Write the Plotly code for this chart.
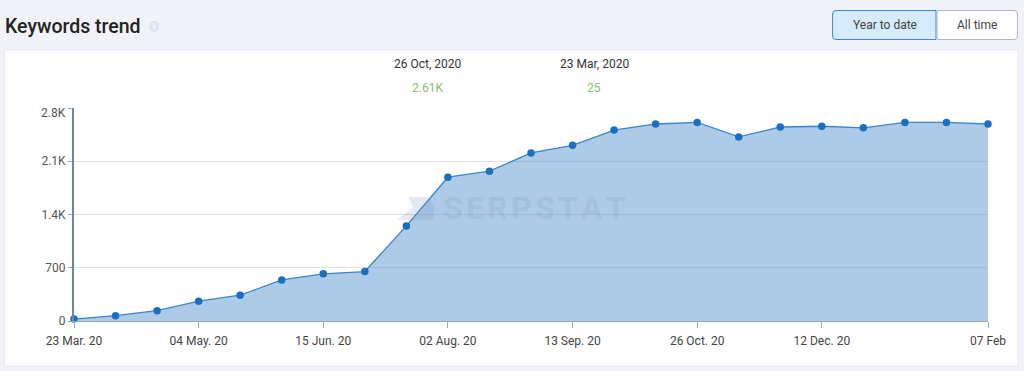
import plotly.graph_objects as go

dates = ["23 Mar. 20","06 Apr. 20","20 Apr. 20","04 May. 20","18 May. 20","01 Jun. 20","15 Jun. 20","29 Jun. 20","13 Jul. 20","02 Aug. 20","16 Aug. 20","30 Aug. 20","13 Sep. 20","27 Sep. 20","12 Oct. 20","26 Oct. 20","10 Nov. 20","26 Nov. 20","12 Dec. 20","26 Dec. 20","10 Jan. 21","24 Jan. 21","07 Feb"]
keywords = [25,70,135,260,340,540,620,650,1250,1890,1970,2210,2310,2510,2590,2610,2420,2550,2560,2540,2610,2610,2590]
tick_dates = ["23 Mar. 20","04 May. 20","15 Jun. 20","02 Aug. 20","13 Sep. 20","26 Oct. 20","12 Dec. 20","07 Feb"]
y_ticks = [0,700,1400,2100,2800]
y_labels = ["0","700","1.4K","2.1K",""]
top_label = "2.8K"

W, H = 1024, 371
L, R, T, B = 73.5, 988, 108, 321
FONT = "Roboto, sans-serif"
def px(x): return (x - L) / (R - L)
def py(y): return (B - y) / (B - T)

fig = go.Figure(go.Scatter(
    x=dates, y=keywords, mode="lines+markers", fill="tozeroy",
    fillcolor="rgba(92,150,208,0.5)",
    line=dict(color="#3a85cc", width=1.3),
    marker=dict(color="#1a6fc4", size=7.5),
    cliponaxis=False, hoverinfo="skip",
))

def poly(points):
    return "M " + " L ".join(f"{px(a)} {py(b)}" for a, b in points) + " Z"

shapes = [
    dict(type="rect", xref="paper", yref="paper", x0=px(4), x1=px(1018), y0=py(366), y1=py(50),
         fillcolor="white", line=dict(color="#e6e9f3", width=1), layer="below"),
    dict(type="path", xref="paper", yref="paper", layer="below", line=dict(color="#3f86cf", width=1),
         fillcolor="#d6ebfb",
         path=f"M {px(936)} {py(10.5)} L {px(836)} {py(10.5)} Q {px(832.5)} {py(10.5)} {px(832.5)} {py(14)} L {px(832.5)} {py(36)} Q {px(832.5)} {py(39.5)} {px(836)} {py(39.5)} L {px(936)} {py(39.5)} Z"),
    dict(type="path", xref="paper", yref="paper", layer="below", line=dict(color="#b4b8be", width=1),
         fillcolor="white",
         path=f"M {px(937)} {py(10.5)} L {px(1014)} {py(10.5)} Q {px(1017.5)} {py(10.5)} {px(1017.5)} {py(14)} L {px(1017.5)} {py(36)} Q {px(1017.5)} {py(39.5)} {px(1014)} {py(39.5)} L {px(937)} {py(39.5)} Z"),
    dict(type="circle", xref="paper", yref="paper", x0=px(148), x1=px(159), y0=py(32), y1=py(21),
         fillcolor="#dde4f2", line=dict(width=0), layer="below"),
    dict(type="path", xref="paper", yref="paper", layer="above", line=dict(width=0),
         fillcolor="rgba(120,150,200,0.2)",
         path=poly([(408, 197), (428, 197), (434, 205), (433, 220), (397, 220), (413, 207)])),
]

def note(x, y, text, size, color, anchor="center", weight=None):
    return dict(xref="paper", yref="paper", x=px(x), y=py(y), text=text, showarrow=False,
                xanchor=anchor, yanchor="middle",
                font=dict(family=FONT, size=size, color=color, weight=weight))

annotations = [
    note(2, 26, "Keywords trend", 19.5, "#222222", "left", 500),
    note(153.5, 26.5, "<b>i</b>", 8, "#ffffff"),
    note(884.5, 24.5, "Year to date", 12, "#444444"),
    note(977, 24.5, "All time", 12, "#444444"),
    note(427, 64, "26 Oct, 2020", 12, "#333333"),
    note(427, 88.5, "2.61K", 12, "#84c26f"),
    note(594, 64, "23 Mar, 2020", 12, "#333333"),
    note(594, 88.5, "25", 12, "#84c26f"),
    note(534, 208, "<b>S\u200aE\u200aR\u200aP\u200aS\u200aT\u200aA\u200aT</b>", 32, "rgba(120,150,200,0.2)"),
    note(67, 113, top_label, 12, "#555555", "right"),
]

fig.update_layout(
    width=W, height=H, autosize=False,
    paper_bgcolor="#f1f3f8", plot_bgcolor="rgba(0,0,0,0)",
    margin=dict(l=L, r=W - R, t=T, b=H - B, pad=0),
    showlegend=False, shapes=shapes, annotations=annotations,
    font=dict(family=FONT, size=12, color="#444444"),
    xaxis=dict(type="category", categoryorder="array", categoryarray=dates, range=[0, 22],
               tickmode="array", tickvals=tick_dates, ticktext=tick_dates, ticklabelstandoff=3,
               showgrid=False, zeroline=False, showline=True, linecolor="#9aa7b8", linewidth=1,
               ticks="outside", ticklen=6, tickcolor="#9aa7b8", tickfont=dict(size=12, color="#444444")),
    yaxis=dict(range=[0, 2800], tickmode="array", tickvals=y_ticks, ticktext=y_labels,
               showgrid=True, gridcolor="#dedede", gridwidth=1, zeroline=False,
               showline=True, linecolor="#73859c", linewidth=2,
               ticks="outside", ticklen=4, tickcolor="#9aa7b8", tickfont=dict(size=12, color="#555555")),
)
fig.write_html("out.html", config=dict(displayModeBar=False),
               post_script="document.body.style.margin='0';document.body.style.overflow='hidden';")
